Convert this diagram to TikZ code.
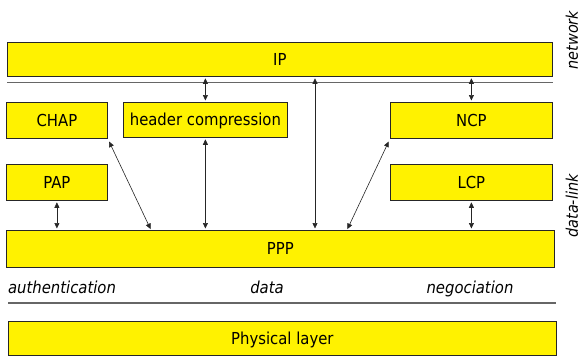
\documentclass[tikz,border=0pt]{standalone}
\usepackage{fontspec}
\setmainfont{DejaVu Sans Condensed}
\usetikzlibrary{arrows.meta,calc}
\begin{document}
\begin{tikzpicture}[x=1pt,y=-1pt,
  box/.style={draw=black!85, line width=0.8pt, fill=yellow, inner sep=0pt,
    text height=12pt, text depth=0pt, font=\fontsize{16.5}{19}\selectfont, anchor=north west},
  lbl/.style={font=\fontsize{16.5}{19}\selectfont\itshape, inner sep=0pt},
  sidelbl/.style={font=\fontsize{16}{19}\selectfont\itshape, inner sep=0pt, rotate=90},
  sepline/.style={draw=black!60, line width=1.2pt},
  arr/.style={{Triangle[length=5.5pt,width=5pt]}-{Triangle[length=5.5pt,width=5pt]},
    line width=0.6pt, draw=black!85, shorten >=1.5pt, shorten <=1.5pt}
]
\useasboundingbox (0,0) rectangle (583,356);

\node[box, minimum width=545pt, minimum height=34pt] (ip) at (7,42) {IP};
\node[box, minimum width=101pt, minimum height=36pt] (chap) at (6,102) {CHAP};
\node[box, minimum width=164pt, minimum height=35pt] (hc) at (123,102) {header compression};
\node[box, minimum width=162pt, minimum height=36pt] (ncp) at (390,102) {NCP};
\node[box, minimum width=101pt, minimum height=36pt] (pap) at (6,164) {PAP};
\node[box, minimum width=162pt, minimum height=36pt] (lcp) at (390,164) {LCP};
\node[box, minimum width=548pt, minimum height=37pt] (ppp) at (6,230) {PPP};
\node[box, minimum width=548pt, minimum height=34pt] (phys) at (8,321) {Physical layer};

\draw[sepline] ($(ip.south west)+(0,6)$) -- ($(ip.south east)+(0,6)$);
\draw[sepline] ($(phys.north west)+(0,-18)$) -- ($(phys.north east)+(-1,-18)$);

\node[lbl, anchor=base] (auth) at (62,293) {authentication};
\node[lbl, anchor=base] (data) at (267,293) {data};
\node[lbl, anchor=base] (neg) at (470,293) {negociation};
\node[sidelbl] (net) at (572,40) {network};
\node[sidelbl] (dl) at (572,206) {data-link};

\coordinate (c315) at (315,0);
\coordinate (c151) at (151,0);
\coordinate (c347) at (347,0);

\draw[arr] (hc.north) -- (hc.north |- ip.south);
\draw[arr] (ncp.north) -- (ncp.north |- ip.south);
\draw[arr] (ppp.north -| c315) -- (ip.south -| c315);
\draw[arr] (hc.south) -- (hc.south |- ppp.north);
\draw[arr, shorten >=1pt, shorten <=3pt] (chap.south east) -- (ppp.north -| c151);
\draw[arr, shorten >=1pt, shorten <=3pt] (ncp.south west) -- (ppp.north -| c347);
\draw[arr] (pap.south) -- (pap.south |- ppp.north);
\draw[arr] (lcp.south) -- (lcp.south |- ppp.north);
\end{tikzpicture}
\end{document}
